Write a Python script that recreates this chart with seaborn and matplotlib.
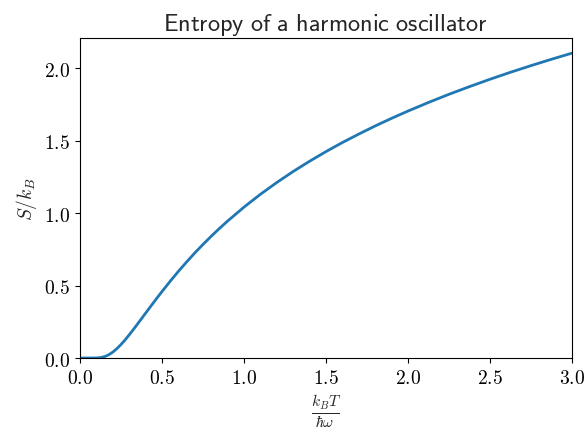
import matplotlib
matplotlib.use("Agg")
import matplotlib.pyplot as plt
import matplotlib.ticker as mticker
import seaborn as sns
import pandas as pd

# temperature in units of hbar*omega/k_B, and entropy S/k_B
temperature = [0.0, 0.05, 0.1, 0.125, 0.15, 0.175, 0.2, 0.225, 0.25, 0.275, 0.3,
               0.325, 0.35, 0.375, 0.4, 0.425, 0.45, 0.475, 0.5, 0.55, 0.6, 0.65,
               0.7, 0.75, 0.8, 0.85, 0.9, 1.0, 1.1, 1.2, 1.3, 1.4, 1.5, 1.6, 1.7,
               1.8, 1.9, 2.0, 2.125, 2.25, 2.375, 2.5, 2.625, 2.75, 2.875, 3.0]
entropy = [0.0, 0.0, 0.0005, 0.003, 0.0098, 0.0222, 0.0407, 0.0647, 0.0931, 0.1251,
           0.1596, 0.1959, 0.2333, 0.2711, 0.3093, 0.3471, 0.3848, 0.4219, 0.4584,
           0.5294, 0.5976, 0.6623, 0.7245, 0.7833, 0.8396, 0.8933, 0.9445, 1.0407,
           1.1291, 1.2107, 1.2867, 1.3572, 1.4239, 1.4864, 1.5448, 1.6007, 1.6534,
           1.7035, 1.7628, 1.8192, 1.8721, 1.9229, 1.9711, 2.0169, 2.0609, 2.1031]

df = pd.DataFrame({"T": temperature, "S": entropy})

sns.set_style("ticks")
plt.rcParams["mathtext.fontset"] = "cm"

fig, ax = plt.subplots(figsize=(5.84, 4.31), dpi=100)
sns.lineplot(data=df, x="T", y="S", ax=ax, color="#1f77b4", linewidth=2)

ax.set_xlim(0, 3)
ax.set_ylim(0, 2.208)
ax.xaxis.set_major_locator(mticker.MultipleLocator(0.5))
ax.yaxis.set_major_locator(mticker.MultipleLocator(0.5))
fmt = mticker.FuncFormatter(lambda v, p: r"$%.1f$" % v)
ax.xaxis.set_major_formatter(fmt)
ax.yaxis.set_major_formatter(fmt)
ax.tick_params(labelsize=14, colors="black")
for s in ax.spines.values():
    s.set_color("black")

ax.set_xlabel(r"$\frac{k_BT}{\hbar\omega}$", fontsize=16)
ax.set_ylabel(r"$S/k_B$", fontsize=14)
ax.set_title(r"$\mathsf{Entropy\ of\ a\ harmonic\ oscillator}$", fontsize=17.5)

fig.subplots_adjust(left=0.137, right=0.979, top=0.9095, bottom=0.167)
fig.savefig("out.png", dpi=100)
